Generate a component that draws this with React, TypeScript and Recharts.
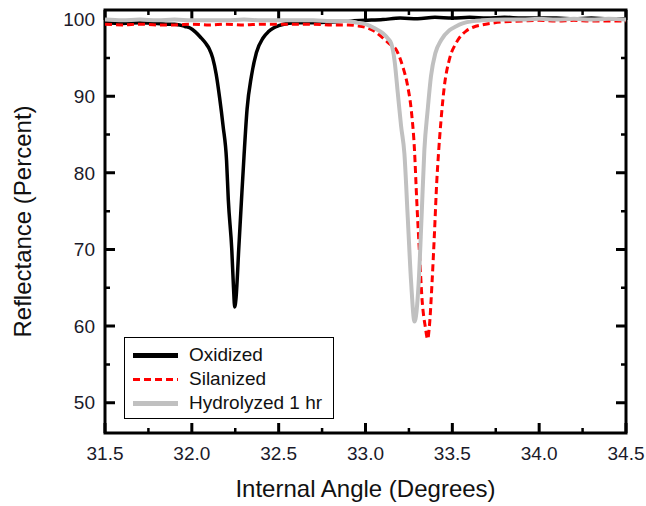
import { LineChart, Line, XAxis, YAxis, Legend, ReferenceArea, ReferenceLine } from "recharts"

// angle ticks every 0.25 deg (labels only on the half degrees)
const angleTicks = [31.5, 31.75, 32.0, 32.25, 32.5, 32.75, 33.0, 33.25, 33.5, 33.75, 34.0, 34.25, 34.5]
const reflTicks = [50, 55, 60, 65, 70, 75, 80, 85, 90, 95, 100]
const angleDomain = [31.5, 34.5]
const reflDomain = [46.05, 101.25]
const seriesOrder = ["Oxidized", "Silanized", "Hydrolyzed 1 hr"]

const oxAngle = [
  31.5, 31.6, 31.7, 31.8, 31.85, 31.9, 31.93, 31.96, 31.99, 32.02, 32.05, 32.08, 32.1, 32.12, 32.14,
  32.16, 32.18, 32.2, 32.21, 32.23, 32.24, 32.247, 32.255, 32.27, 32.286, 32.3, 32.318, 32.343, 32.372,
  32.41, 32.44, 32.47, 32.5, 32.55, 32.6, 32.7, 32.8, 32.9, 33.0, 33.1, 33.2, 33.3, 33.4, 33.5, 33.6,
  33.7, 33.8, 33.9, 34.0, 34.1, 34.2, 34.3, 34.4, 34.5,
]
const oxValue = [
  99.6, 99.5, 99.6, 99.5, 99.4, 99.4, 99.3, 99.1, 98.9, 98.4, 97.7, 96.9, 96.2, 95.0, 92.9,
  89.8, 86.1, 81.6, 76.5, 70.0, 65.0, 62.5, 63.8, 70.0, 76.5, 82.0, 88.3, 92.6, 95.7,
  97.6, 98.4, 98.9, 99.2, 99.5, 99.6, 99.6, 99.7, 99.8, 99.9, 100.0, 100.2, 100.1, 100.3, 100.2, 100.3,
  100.2, 100.3, 100.2, 100.2, 100.2, 100.1, 100.2, 100.1, 100.1,
]

const silAngle = [
  31.5, 31.6, 31.7, 31.8, 31.9, 32.0, 32.1, 32.2, 32.3, 32.4, 32.5, 32.6, 32.7, 32.8, 32.9, 32.95,
  33.0, 33.05, 33.1, 33.14, 33.176, 33.214, 33.243, 33.263, 33.282, 33.295, 33.31, 33.326, 33.345,
  33.358, 33.368, 33.383, 33.397, 33.41, 33.42, 33.435, 33.454, 33.483, 33.521, 33.54, 33.579, 33.62,
  33.67, 33.72, 33.79, 33.9, 34.0, 34.1, 34.2, 34.3, 34.4, 34.5,
]
const silValue = [
  99.4, 99.3, 99.4, 99.3, 99.3, 99.4, 99.3, 99.4, 99.3, 99.4, 99.4, 99.4, 99.4, 99.3, 99.3, 99.2,
  99.0, 98.5, 97.6, 96.8, 96.1, 93.9, 91.3, 88.3, 83.0, 76.4, 69.9, 63.4, 59.8,
  58.3, 60.0, 65.6, 72.1, 78.7, 82.4, 86.9, 91.3, 94.8, 96.9, 97.6, 98.5, 99.0,
  99.3, 99.5, 99.7, 99.8, 99.9, 99.8, 99.9, 99.8, 99.8, 99.8,
]

const hydAngle = [
  31.5, 31.6, 31.7, 31.8, 31.9, 32.0, 32.1, 32.2, 32.3, 32.4, 32.5, 32.6, 32.7, 32.8, 32.9, 32.95,
  33.0, 33.05, 33.1, 33.13, 33.148, 33.167, 33.186, 33.205, 33.224, 33.243, 33.263, 33.282, 33.306,
  33.323, 33.339, 33.358, 33.377, 33.402, 33.435, 33.483, 33.52, 33.559, 33.62, 33.67, 33.8, 33.9,
  34.0, 34.1, 34.2, 34.3, 34.4, 34.5,
]
const hydValue = [
  100.0, 99.9, 100.0, 99.9, 100.0, 99.9, 99.9, 99.9, 100.0, 99.9, 99.9, 99.9, 99.9, 99.8, 99.8, 99.6,
  99.4, 98.9, 98.2, 97.5, 96.9, 94.7, 90.4, 86.1, 82.5, 74.3, 65.6, 60.6, 65.6,
  74.3, 83.0, 88.2, 92.6, 95.6, 97.3, 98.6, 99.1, 99.5, 99.8, 99.9, 100.0, 100.0,
  100.1, 100.0, 100.1, 100.0, 100.1, 100.0,
]

const toPoints = (a: number[], v: number[]) => a.map((angle, i) => ({ angle, value: v[i] }))

const oxidized = toPoints(oxAngle, oxValue)
const silanized = toPoints(silAngle, silValue)
const hydrolyzed = toPoints(hydAngle, hydValue)

const tickFont = 19
const textColor = "#1a1a2a"
const isMajorX = (v: number) => Math.abs(v * 2 - Math.round(v * 2)) < 1e-6
const isMajorY = (v: number) => v % 10 === 0

function BottomLabel({ x, y, payload }: any) {
  if (!isMajorX(payload.value)) return <g />
  return (
    <text x={x} y={y + 27} textAnchor="middle" fontSize={tickFont} fill={textColor}>
      {payload.value.toFixed(1)}
    </text>
  )
}

// inward tick marks at both ends of an invisible reference line
function VTicks({ x1, y1, y2, major }: any) {
  const len = major ? 10 : 5
  const top = Math.min(y1, y2)
  const bottom = Math.max(y1, y2)
  return (
    <path
      d={`M${x1},${bottom}V${bottom - len}M${x1},${top}V${top + len}`}
      stroke="#000"
      strokeWidth={major ? 3 : 2.5}
      fill="none"
    />
  )
}

function HTicks({ x1, x2, y1, major }: any) {
  const len = major ? 10 : 5
  const left = Math.min(x1, x2)
  const right = Math.max(x1, x2)
  return (
    <path
      d={`M${left},${y1}H${left + len}M${right},${y1}H${right - len}`}
      stroke="#000"
      strokeWidth={major ? 3 : 2.5}
      fill="none"
    />
  )
}

function Swatch({ color, dashed }: any) {
  const style: any = dashed
    ? { width: 45, height: 3, background: `repeating-linear-gradient(90deg, ${color} 0 7px, transparent 7px 11px)` }
    : { width: 45, height: 5, background: color }
  return <div style={style} />
}

function LegendBox({ payload }: any) {
  const items = [...(payload || [])].sort(
    (a: any, b: any) => seriesOrder.indexOf(a.value) - seriesOrder.indexOf(b.value)
  )
  return (
    <div
      style={{
        border: "1.5px solid #000",
        background: "#fff",
        width: 210,
        height: 82,
        boxSizing: "border-box",
        padding: "5px 0 0 8px",
      }}
    >
      {items.map((entry: any) => (
        <div key={entry.value} style={{ display: "flex", alignItems: "center", height: 24 }}>
          <Swatch color={entry.color} dashed={!!entry.payload?.strokeDasharray} />
          <span style={{ marginLeft: 11, fontSize: 19, color: "#111", lineHeight: "24px" }}>{entry.value}</span>
        </div>
      ))}
    </div>
  )
}

export default function App() {
  return (
    <div
      style={{
        position: "absolute",
        left: 0,
        top: 0,
        width: 646,
        height: 506,
        background: "#fff",
        fontFamily: '"Liberation Sans", Arial, sans-serif',
      }}
    >
      <LineChart width={646} height={506} margin={{ top: 10, right: 20, bottom: 0, left: 0 }}>
        <XAxis
          dataKey="angle"
          type="number"
          domain={angleDomain}
          allowDataOverflow
          ticks={angleTicks}
          interval={0}
          tick={(p: any) => <BottomLabel {...p} />}
          tickLine={false}
          tickSize={0}
          tickMargin={0}
          axisLine={false}
          height={73}
          label={{ value: "Internal Angle (Degrees)", position: "insideBottom", offset: 9, fontSize: 24, fill: "#111" }}
        />
        <YAxis
          type="number"
          domain={reflDomain}
          allowDataOverflow
          ticks={reflTicks}
          interval={0}
          tick={{ fontSize: tickFont, fill: textColor }}
          tickFormatter={(v: number) => (isMajorY(v) ? String(v) : "")}
          tickLine={false}
          tickMargin={4}
          axisLine={false}
          width={105}
          label={{
            value: "Reflectance (Percent)",
            angle: -90,
            position: "insideLeft",
            offset: 22,
            fontSize: 24,
            fill: "#111",
            style: { textAnchor: "middle" },
          }}
        />
        {angleTicks.map((t) => (
          <ReferenceLine key={`x${t}`} x={t} stroke="none" shape={(p: any) => <VTicks {...p} major={isMajorX(t)} />} />
        ))}
        {reflTicks.map((t) => (
          <ReferenceLine key={`y${t}`} y={t} stroke="none" shape={(p: any) => <HTicks {...p} major={isMajorY(t)} />} />
        ))}
        <Legend
          layout="vertical"
          align="center"
          verticalAlign="middle"
          content={(p: any) => <LegendBox {...p} />}
          wrapperStyle={{ left: 124, top: 337, width: 210 }}
        />
        <Line
          data={oxidized}
          dataKey="value"
          name="Oxidized"
          type="monotone"
          stroke="#000"
          strokeWidth={3.5}
          dot={false}
          isAnimationActive={false}
        />
        <Line
          data={silanized}
          dataKey="value"
          name="Silanized"
          type="monotone"
          stroke="#ff0000"
          strokeWidth={3}
          strokeDasharray="7 4"
          dot={false}
          isAnimationActive={false}
        />
        <Line
          data={hydrolyzed}
          dataKey="value"
          name="Hydrolyzed 1 hr"
          type="monotone"
          stroke="#c0c0c0"
          strokeWidth={4}
          dot={false}
          isAnimationActive={false}
        />
        <ReferenceArea
          x1={angleDomain[0]}
          x2={angleDomain[1]}
          y1={reflDomain[0]}
          y2={reflDomain[1]}
          fill="none"
          fillOpacity={0}
          stroke="#000"
          strokeWidth={3}
          ifOverflow="visible"
        />
      </LineChart>
    </div>
  )
}
